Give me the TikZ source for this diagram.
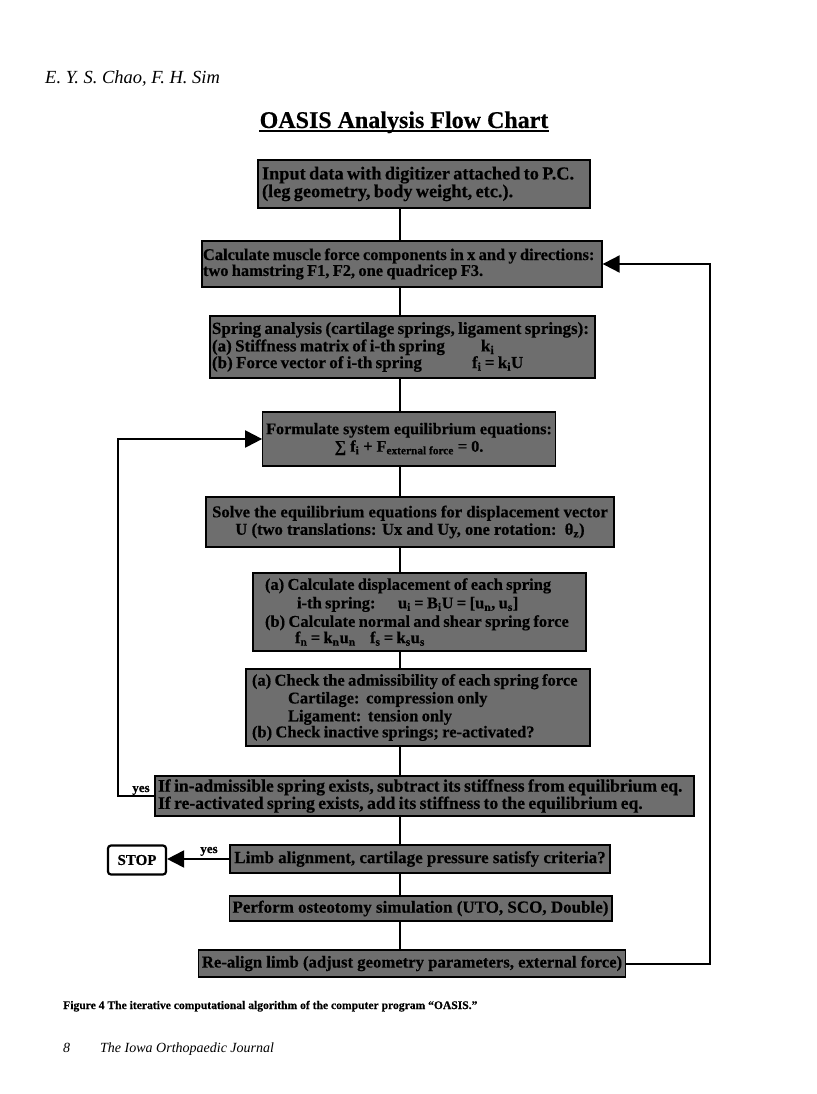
\documentclass[tikz,border=0pt]{standalone}
\usepackage{fontspec}
\setmainfont{Liberation Serif}[BoldFeatures={FakeBold=0.4}]
\usetikzlibrary{arrows.meta}
\definecolor{boxgray}{gray}{0.43}
\newcommand{\fs}[1]{\fontsize{#1}{17.5}\selectfont}
\tikzset{
  box/.style={draw=black, line width=1.3pt, fill=boxgray, inner ysep=1pt,
    font=\bfseries, text=black},
  spine/.style={line width=2.4pt},
  loopline/.style={line width=2pt},
  arr/.style={-{Triangle[length=17pt,width=17pt]}},
  lbl/.style={font=\bfseries\fontsize{13}{14}\selectfont, inner sep=0pt},
}
\begin{document}
\begin{tikzpicture}[x=1pt,y=-1pt]
\useasboundingbox[fill=white] (0,0) rectangle (816,1094);

% header, title
\node[anchor=base west, inner sep=0pt, font=\itshape\fontsize{18.5}{20}\selectfont] (hdr) at (45,84) {E. Y. S. Chao, F. H. Sim};
\node[anchor=base, inner sep=0pt, font=\bfseries\fontsize{24}{28}\selectfont] (title) at (404,128) {OASIS Analysis Flow Chart};
\draw[line width=1.6pt] ([yshift=-3pt]title.base west) -- ([yshift=-3pt]title.base east);

% boxes
\node[box, minimum height=48, text width=324, inner xsep=4, align=left] (n1) at (424,184)
  {\fontsize{18.3}{18}\selectfont Input data with digitizer attached to P.C.\\(leg geometry, body weight, etc.).};
\node[box, minimum height=46, text width=398, inner xsep=1, align=left] (n2) at (402,264)
  {\fontsize{16.4}{17.5}\selectfont Calculate muscle force components in x and y directions:\\two hamstring F1, F2, one quadricep F3.};
\node[box, minimum height=62, text width=381, inner xsep=2, align=left] (n3) at (402.5,347)
  {\fontsize{17}{17.5}\selectfont Spring analysis (cartilage springs, ligament springs):\\
   \makebox[269pt][l]{(a) Stiffness matrix of i-th spring}k\textsubscript{i}\\
   \makebox[260pt][l]{(b) Force vector of i-th spring}f\textsubscript{i} = k\textsubscript{i}U};
\node[box, font=\bfseries\fs{16.2}, minimum width=292, minimum height=54, align=center] (n4) at (409,439)
  {Formulate system equilibrium equations:\\
   ∑ f\textsubscript{i} + F\textsubscript{external force} = 0.};
\node[box, font=\bfseries\fs{16.6}, minimum width=408, minimum height=50, align=center] (n5) at (410,522)
  {Solve the equilibrium equations for displacement vector\\
   U (two translations: Ux and Uy, one rotation:\ \ θ\textsubscript{z})};
\node[box, minimum height=78, text width=309, inner xsep=12, align=left] (n6) at (419.5,612)
  {\fontsize{16.5}{18.5}\selectfont (a) Calculate displacement of each spring\\
   \hspace*{32pt}\makebox[101pt][l]{i-th spring:}u\textsubscript{i} = B\textsubscript{i}U = [u\textsubscript{n}, u\textsubscript{s}]\\
   (b) Calculate normal and shear spring force\\
   \hspace*{30pt}\makebox[75pt][l]{f\textsubscript{n} = k\textsubscript{n}u\textsubscript{n}}f\textsubscript{s} = k\textsubscript{s}u\textsubscript{s}};
\node[box, minimum height=77, text width=332, inner xsep=6, align=left] (n7) at (418,707.5)
  {\fontsize{16.5}{17.8}\selectfont (a) Check the admissibility of each spring force\\
   \hspace*{36pt}Cartilage:\ \ compression only\\
   \hspace*{36pt}Ligament:\ \ tension only\\
   (b) Check inactive springs; re-activated?};
\node[box, minimum height=40, text width=533, inner xsep=3, align=left] (n8) at (424.5,796)
  {\fontsize{17.6}{17.5}\selectfont If in-admissible spring exists, subtract its stiffness from equilibrium eq.\\
   If re-activated spring exists, add its stiffness to the equilibrium eq.};
\node[box, font=\bfseries\fs{17}, minimum width=380, minimum height=28] (n9) at (420,859)
  {Limb alignment, cartilage pressure satisfy criteria?};
\node[box, font=\bfseries\fs{17}, minimum width=379, minimum height=25] (n10) at (420.5,908.5)
  {Perform osteotomy simulation (UTO, SCO, Double)};
\node[box, font=\bfseries\fs{16.7}, minimum width=426, minimum height=27] (n11) at (412,963.5)
  {Re-align limb (adjust geometry parameters, external force)};
\node[draw=black, line width=2.2pt, rounded corners=3pt, fill=white, minimum width=58, minimum height=29,
  font=\bfseries\fontsize{15}{17}\selectfont] (stop) at (137,860) {STOP};

% spine
\coordinate (sp) at (400,0);
\foreach \a/\b in {n1/n2,n2/n3,n3/n4,n4/n5,n5/n6,n6/n7,n7/n8,n8/n9,n9/n10,n10/n11}
  \draw[spine] (\a.south -| sp) -- (\b.north -| sp);

% loops
\coordinate (rx) at (710,0);
\coordinate (lx) at (118,0);
\draw[loopline, arr] (n11.east) -- (n11.east -| rx) |- (n2.east);
\draw[loopline, arr] (n8.west) -- (n8.west -| lx) |- (n4.west);
\draw[loopline, arr] (n9.west) -- (n9.west -| stop.east);

\node[lbl, anchor=base] (yes1) at (141,792) {yes};
\node[lbl, anchor=base] (yes2) at (209,853) {yes};

% caption and footer
\node[anchor=base west, inner sep=0pt, font=\bfseries\fontsize{11.6}{13}\selectfont] (cap) at (63,1009)
  {Figure 4 The iterative computational algorithm of the computer program ``OASIS.''};
\node[anchor=base west, inner sep=0pt, font=\itshape\fontsize{14}{18}\selectfont] (pg) at (63,1052) {8};
\node[anchor=base west, inner sep=0pt, font=\itshape\fontsize{14}{18}\selectfont] (jr) at (100,1052) {The Iowa Orthopaedic Journal};
\end{tikzpicture}
\end{document}
